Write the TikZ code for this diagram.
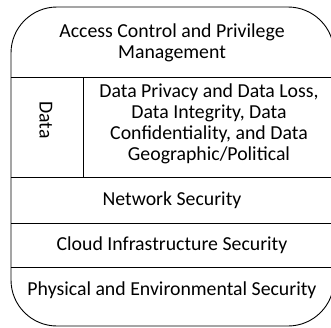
\documentclass[tikz,border=0pt]{standalone}
\usepackage{fontspec}
\setmainfont{Carlito}
\usetikzlibrary{positioning,calc}

\tikzset{
  layer/.style={align=center,font=\fontsize{19.8}{21}\selectfont,inner sep=0pt},
  sep/.style={line width=0.9pt}
}

\begin{document}
\begin{tikzpicture}[x=1pt,y=-1pt]
\useasboundingbox (0,0) rectangle (331,327);
% Outer frame
\draw[sep,rounded corners=46pt] (11,7) rectangle (334,326);
% Separators
\coordinate (l1) at (11,77);
\coordinate (r1) at (334,77);
\coordinate (l2) at (11,177);
\coordinate (r2) at (334,177);
\coordinate (l3) at (11,223);
\coordinate (r3) at (334,223);
\coordinate (l4) at (11,267);
\coordinate (r4) at (334,267);
\coordinate (dt) at (83,77);
\coordinate (db) at (83,177);
\draw[sep] (l1) -- (r1);
\draw[sep] (l2) -- (r2);
\draw[sep] (l3) -- (r3);
\draw[sep] (l4) -- (r4);
\draw[sep] (dt) -- (db);
% Layers
\node[layer] (acc) at (172,43) {Access Control and Privilege\\Management};
\node[layer,rotate=-90] (data) at (46,120) {Data};
\node[layer] (priv) at (209,124) {Data Privacy and Data Loss,\\Data Integrity, Data\\Confidentiality, and Data\\Geographic/Political};
\node[layer] (net) at (172,200) {Network Security};
\node[layer] (cloud) at (172,245) {Cloud Infrastructure Security};
\node[layer] (phys) at (172,290) {Physical and Environmental Security};

\end{tikzpicture}
\end{document}
